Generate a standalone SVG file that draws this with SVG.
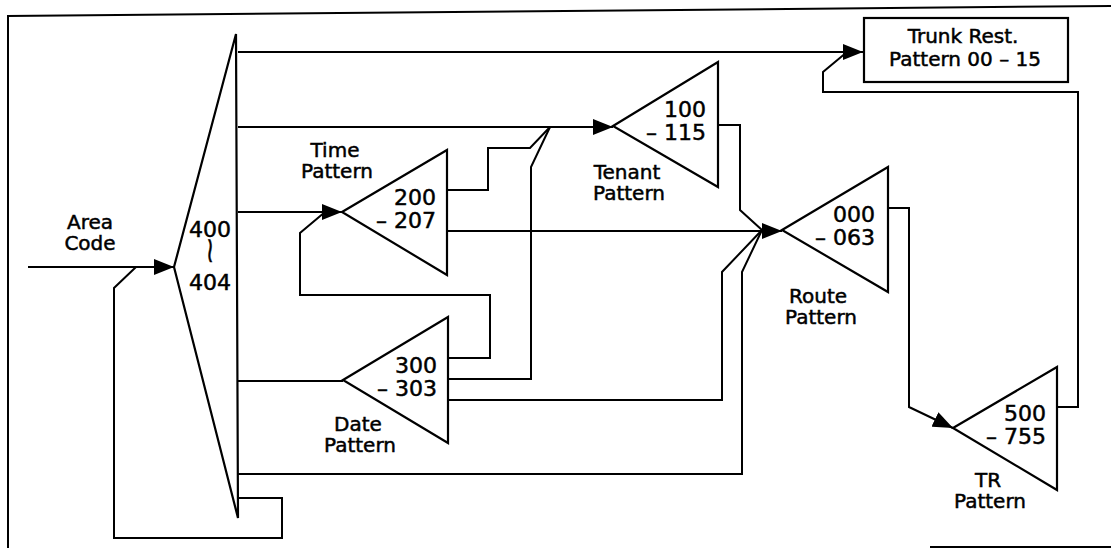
<svg xmlns="http://www.w3.org/2000/svg" width="1111" height="548" viewBox="0 0 1111 548">
<defs>
<marker id="ah" markerUnits="userSpaceOnUse" markerWidth="20" markerHeight="16" refX="20" refY="8" orient="auto">
<path d="M0,0 L20,8 L0,16 z" fill="#000"/>
</marker>
<style>
.ln{fill:none;stroke:#000;stroke-width:2;stroke-linejoin:miter}
.sh{fill:#fff;stroke:#000;stroke-width:2.2;stroke-linejoin:miter}
.t{font-family:"DejaVu Sans","Liberation Sans",sans-serif;font-size:20px;fill:#000;stroke:#000;stroke-width:0.5}
.c{text-anchor:middle}
.n{font-family:"DejaVu Sans","Liberation Sans",sans-serif;font-size:22px;fill:#000;stroke:#000;stroke-width:0.5;text-anchor:end}
</style>
</defs>
<rect width="1111" height="548" fill="#fff"/>
<g id="frame" class="ln">
<path d="M7,16 L1111,6"/>
<path d="M8,16 V548"/>
<path d="M930,547 H1111"/>
</g>
<g id="connectors" class="ln">
<path d="M28,267 H174" marker-end="url(#ah)"/>
<path d="M238,498 H282 V538 H114 V288 L136,267"/>
<path d="M238,52 H863" marker-end="url(#ah)"/>
<path d="M238,127 H613" marker-end="url(#ah)"/>
<path d="M238,212 H342" marker-end="url(#ah)"/>
<path d="M238,381 H343"/>
<path d="M238,474 H742 V272 L762,230"/>
<path d="M447,190 H488 V148 H530 L550,127"/>
<path d="M447,231 H782" marker-end="url(#ah)"/>
<path d="M448,358 H490 V295 H300 V233 L325,212"/>
<path d="M448,379 H531 V167 L550,127"/>
<path d="M448,400 H722 V272 L762,230"/>
<path d="M718,125 H740 V210 L762,230"/>
<path d="M888,208 H909 V407 L953,428" marker-end="url(#ah)"/>
<path d="M1057,407 H1078 V92 H823 V72 L847,52"/>
</g>
<g id="area-code">
<text class="t c" x="90" y="229">Area</text>
<text class="t c" x="90" y="250">Code</text>
</g>
<g id="selector">
<path class="sh" d="M236,34 L174,267 L238,518 Z"/>
<text class="n" x="231" y="237">400</text>
<text class="t c" transform="translate(210,262) scale(1.2,2)" x="0" y="0" style="font-size:18px;stroke-width:0.3">≀</text>
<text class="n" x="231" y="290">404</text>
</g>
<g id="time-pattern">
<path class="sh" d="M342,212 L447,150 L447,275 Z"/>
<text class="n" x="436" y="205">200</text>
<text class="n" x="436" y="228">– 207</text>
<text class="t c" x="335" y="157">Time</text>
<text class="t c" x="337" y="178">Pattern</text>
</g>
<g id="date-pattern">
<path class="sh" d="M343,380 L448,317 L448,443 Z"/>
<text class="n" x="437" y="373">300</text>
<text class="n" x="437" y="396">– 303</text>
<text class="t c" x="358" y="431">Date</text>
<text class="t c" x="360" y="452">Pattern</text>
</g>
<g id="tenant-pattern">
<path class="sh" d="M613,126 L718,62 L718,187 Z"/>
<text class="n" x="706" y="117">100</text>
<text class="n" x="706" y="140">– 115</text>
<text class="t c" x="627" y="179">Tenant</text>
<text class="t c" x="629" y="200">Pattern</text>
</g>
<g id="route-pattern">
<path class="sh" d="M782,230 L888,167 L888,292 Z"/>
<text class="n" x="875" y="222">000</text>
<text class="n" x="875" y="245">– 063</text>
<text class="t c" x="818" y="303">Route</text>
<text class="t c" x="821" y="324">Pattern</text>
</g>
<g id="tr-pattern">
<path class="sh" d="M953,428 L1057,367 L1057,490 Z"/>
<text class="n" x="1046" y="421">500</text>
<text class="n" x="1046" y="444">– 755</text>
<text class="t c" x="988" y="487">TR</text>
<text class="t c" x="990" y="508">Pattern</text>
</g>
<g id="trunk-rest">
<rect class="sh" x="864" y="18" width="204" height="64"/>
<text class="t c" x="963" y="43">Trunk Rest.</text>
<text class="t c" x="965" y="66">Pattern 00 – 15</text>
</g>
</svg>
